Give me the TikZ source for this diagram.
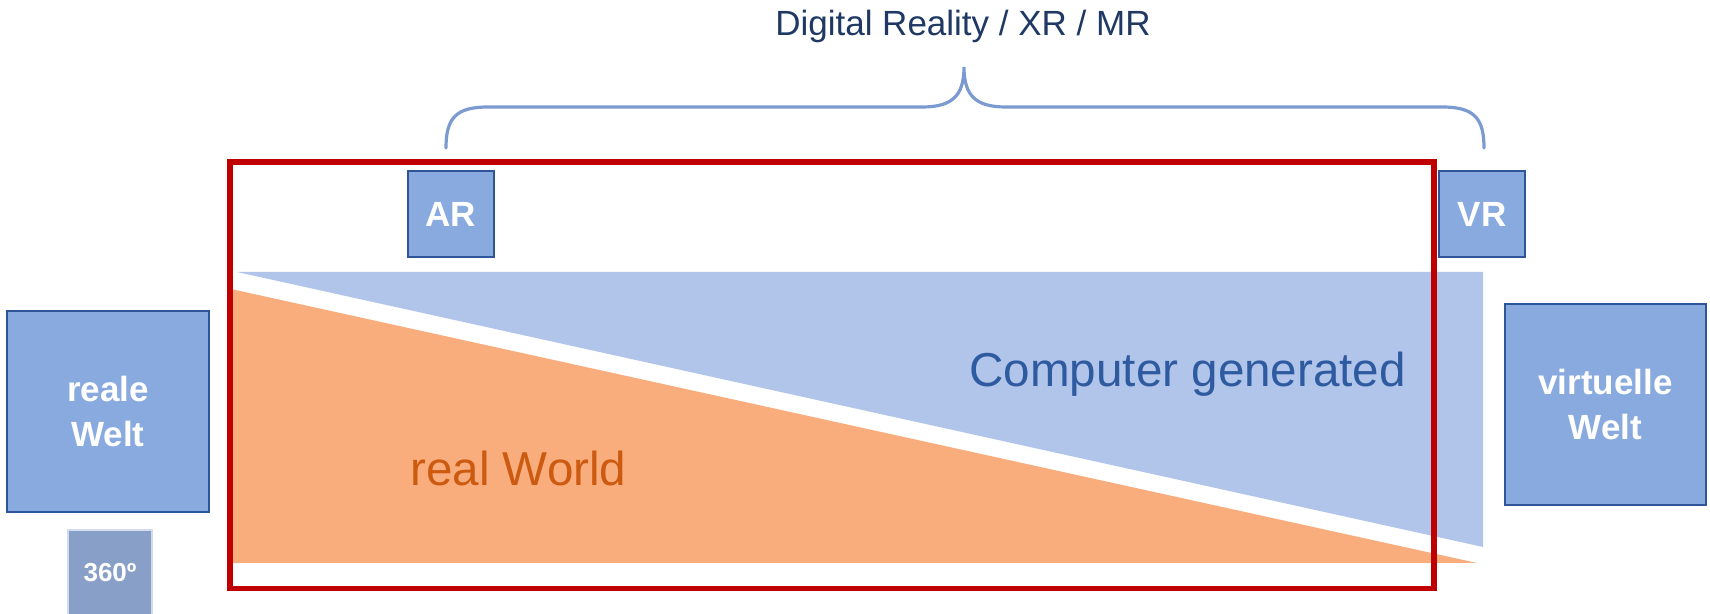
\documentclass[tikz,border=0pt]{standalone}
\usepackage{fontspec}
\setmainfont{Liberation Sans}
\definecolor{boxfill}{HTML}{88AADF}
\definecolor{boxline}{HTML}{2E5597}
\definecolor{cgfill}{HTML}{B1C4E9}
\definecolor{rwfill}{HTML}{FAAD7C}
\definecolor{redframe}{HTML}{C00000}
\definecolor{bracecol}{HTML}{7A9AD0}
\definecolor{titlecol}{HTML}{1F3864}
\definecolor{cgtext}{HTML}{2E5AA0}
\definecolor{rwtext}{HTML}{CC5A10}
\definecolor{grayfill}{HTML}{889FC8}
\definecolor{grayline}{HTML}{D3DCEE}
\tikzset{
  bluebox/.style={draw=boxline, fill=boxfill, line width=1.2pt, inner sep=0pt,
    text=white, align=center, font=\bfseries\fontsize{17.5}{22.5}\selectfont},
  bigtext/.style={inner sep=0pt, font=\fontsize{23.8}{28}\selectfont},
}
\begin{document}
\begin{tikzpicture}[x=0.5pt,y=-0.5pt]
\useasboundingbox (0,0) rectangle (1710,614);
% triangles
\fill[cgfill] (237,272) -- (1483,272) -- (1483,547) -- cycle;
\fill[rwfill] (231,289) -- (1477,563) -- (231,563) -- cycle;
% red frame
\draw[redframe, line width=2.75pt] (230,162) rectangle (1434,588.5);
% boxes
\node[bluebox, minimum width=43pt, minimum height=43pt] (ar) at (451,214) {AR};
\node[bluebox, minimum width=43pt, minimum height=43pt] (vr) at (1482,214) {VR};
\node[bluebox, minimum width=101pt, minimum height=100.5pt] (reale) at (108,411.5) {reale\\Welt};
\node[bluebox, minimum width=100.5pt, minimum height=100.5pt] (virt) at (1605.5,404.5) {virtuelle\\Welt};
\node[draw=grayline, fill=grayfill, line width=0.6pt, minimum width=42pt, minimum height=44pt, inner sep=0pt] (pano) at (110,574) {};
\node[text=white, inner sep=0pt, font=\bfseries\fontsize{13}{15}\selectfont] (panotext) at (110,573) {360º};
% texts
\node[bigtext, text=cgtext, anchor=base west] (cg) at (969,387) {Computer generated};
\node[bigtext, text=rwtext, anchor=base west] (rw) at (410,486) {real World};
\node[inner sep=0pt, text=titlecol, anchor=base, font=\fontsize{17.5}{21}\selectfont] (title) at (963,36) {Digital Reality / XR / MR};
% brace
\coordinate (bl) at (446,148);
\coordinate (bm) at (964,67);
\coordinate (br) at (1484,148);
\draw[bracecol, line width=1.6pt, line cap=round]
  (bl) .. controls (446,118) and (456,107) .. (488,107) -- (922,107)
  .. controls (952,107) and (964,96) .. (bm)
  .. controls (964,96) and (976,107) .. (1006,107) -- (1442,107)
  .. controls (1474,107) and (1484,118) .. (br);
\end{tikzpicture}
\end{document}
